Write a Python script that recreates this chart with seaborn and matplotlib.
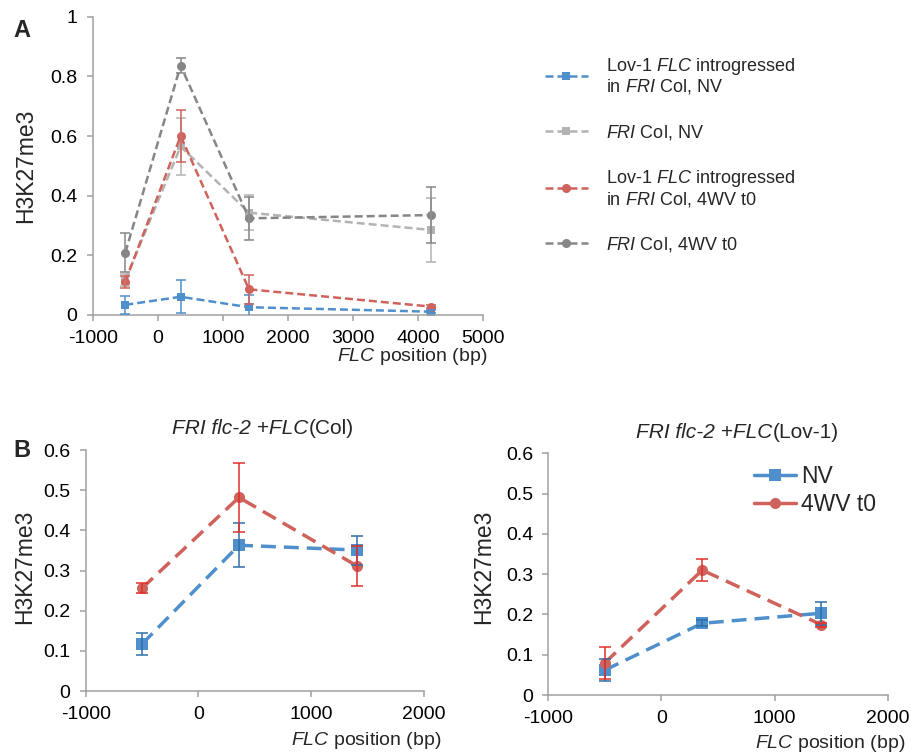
import pandas as pd
import numpy as np
import matplotlib
matplotlib.use("Agg")
import matplotlib.pyplot as plt
import seaborn as sns
from matplotlib.lines import Line2D
from matplotlib.ticker import FuncFormatter

# Panel A data (FLC position in bp, H3K27me3 values and error bars)
pos_a = [-500, 350, 1400, 4200]
lov_nv = [0.034, 0.061, 0.026, 0.011]
lov_nv_err = [0.030, 0.056, 0.040, 0.006]
col_nv = [0.117, 0.565, 0.343, 0.285]
col_nv_err = [0.020, 0.097, 0.058, 0.108]
lov_4wv = [0.112, 0.600, 0.086, 0.028]
lov_4wv_err = [0.020, 0.088, 0.048, 0.005]
col_4wv = [0.209, 0.836, 0.324, 0.335]
col_4wv_err = [0.065, 0.025, 0.073, 0.093]

labels_a = [
    "Lov-1 $\\mathit{FLC}$ introgressed\nin $\\mathit{FRI}$ Col, NV",
    "$\\mathit{FRI}$ Col, NV",
    "Lov-1 $\\mathit{FLC}$ introgressed\nin $\\mathit{FRI}$ Col, 4WV t0",
    "$\\mathit{FRI}$ Col, 4WV t0",
]

# Panel B data
pos_b = [-500, 360, 1410]
col_b_nv = [0.117, 0.363, 0.351]
col_b_nv_err = [0.028, 0.055, 0.036]
col_b_4wv = [0.256, 0.482, 0.311]
col_b_4wv_err = [0.013, 0.087, 0.050]
lov_b_nv = [0.062, 0.178, 0.203]
lov_b_nv_err = [0.027, 0.007, 0.028]
lov_b_4wv = [0.080, 0.310, 0.175]
lov_b_4wv_err = [0.040, 0.028, 0.005]
labels_b = ["NV", "4WV t0"]

BLUE = "#4f8fcb"
RED = "#d0625c"
LGRAY = "#b3b3b3"
DGRAY = "#858688"
AXGRAY = "#a0a0a0"

sns.set_style("ticks")
plt.rcParams["font.family"] = ["Liberation Sans", "DejaVu Sans"]
plt.rcParams["mathtext.fontset"] = "custom"
plt.rcParams["mathtext.rm"] = "Liberation Sans"
plt.rcParams["mathtext.it"] = "Liberation Sans:italic"
plt.rcParams["axes.unicode_minus"] = False

fig = plt.figure(figsize=(9.11, 7.53), dpi=100)
ax_a = fig.add_axes([0.1018, 0.5817, 0.4288, 0.3961])
ax_b1 = fig.add_axes([0.094, 0.0823, 0.3713, 0.320])
ax_b2 = fig.add_axes([0.6019, 0.077, 0.3726, 0.321])


def style_axes(ax):
    sns.despine(ax=ax)
    for s in ["left", "bottom"]:
        ax.spines[s].set_color(AXGRAY)
        ax.spines[s].set_linewidth(1.1)
    ax.tick_params(direction="out", length=4, width=1.1, color=AXGRAY,
                   labelsize=14, labelcolor="black", pad=7)
    ax.yaxis.set_major_formatter(FuncFormatter(lambda v, p: "%g" % round(v, 2)))
    ax.set_ylabel("H3K27me3", fontsize=16.5)


def series(ax, x, y, err, color, marker, ms, lw, dash, label, ecolor, cap):
    df = pd.DataFrame({"pos": x, "val": y})
    sns.lineplot(data=df, x="pos", y="val", ax=ax, color=color, marker=marker,
                 markersize=ms, markeredgewidth=0, linewidth=lw,
                 linestyle=(0, dash), label=label, sort=False, zorder=2)
    ax.errorbar(x, y, yerr=err, fmt="none", ecolor=ecolor, elinewidth=1.1,
                capsize=cap, capthick=1.1, zorder=3)


# ---- Panel A ----
da = (3.2, 1.6)
series(ax_a, pos_a, lov_nv, lov_nv_err, BLUE, "s", 6, 1.8, da, labels_a[0], BLUE, 3.5)
series(ax_a, pos_a, col_nv, col_nv_err, LGRAY, "s", 6, 1.8, da, labels_a[1], LGRAY, 3.5)
series(ax_a, pos_a, lov_4wv, lov_4wv_err, RED, "o", 6.5, 1.8, da, labels_a[2], RED, 3.5)
series(ax_a, pos_a, col_4wv, col_4wv_err, DGRAY, "o", 6.5, 1.8, da, labels_a[3], DGRAY, 3.5)
ax_a.set_xlim(-1000, 5000)
ax_a.set_ylim(0, 1)
ax_a.set_xticks(np.arange(-1000, 5001, 1000))
ax_a.set_yticks(np.arange(0, 1.01, 0.2))
style_axes(ax_a)
ax_a.set_xlabel("$\\mathit{FLC}$ position (bp)", fontsize=14, loc="right")
ax_a.xaxis.set_label_coords(1.009, -0.104)
ax_a.yaxis.set_label_coords(-0.143, 0.5)
h, l = ax_a.get_legend_handles_labels()
leg = ax_a.legend(h, l, loc="upper left", bbox_to_anchor=(0.598, 0.926),
                  bbox_transform=fig.transFigure, frameon=False, fontsize=13,
                  borderpad=0, borderaxespad=0, handlelength=2.4,
                  handletextpad=1.0, labelspacing=1.45)
for t in leg.get_texts():
    t.set_linespacing(1.05)

# ---- Panel B ----
db = (4.3, 2.3)
for ax, nv, nve, wv, wve in [
    (ax_b1, col_b_nv, col_b_nv_err, col_b_4wv, col_b_4wv_err),
    (ax_b2, lov_b_nv, lov_b_nv_err, lov_b_4wv, lov_b_4wv_err),
]:
    series(ax, pos_b, nv, nve, BLUE, "s", 8, 2.5, db, labels_b[0], "#2f6fa8", 4.3)
    series(ax, pos_b, wv, wve, RED, "o", 8, 2.5, db, labels_b[1], "#e0302a", 4.3)
    ax.set_xlim(-1000, 2000)
    ax.set_ylim(0, 0.6)
    ax.set_xticks([-1000, 0, 1000, 2000])
    ax.set_yticks(np.arange(0, 0.61, 0.1))
    style_axes(ax)
    ax.set_xlabel("$\\mathit{FLC}$ position (bp)", fontsize=14, loc="right")
    ax.get_legend().remove()

ax_b1.xaxis.set_label_coords(1.052, -0.162)
ax_b1.yaxis.set_label_coords(-0.145, 0.515)
ax_b2.xaxis.set_label_coords(1.051, -0.157)
ax_b2.yaxis.set_label_coords(-0.157, 0.53)
hb = [Line2D([], [], color=BLUE, marker="s", markersize=8, markeredgewidth=0, linewidth=2.5),
      Line2D([], [], color=RED, marker="o", markersize=8, markeredgewidth=0, linewidth=2.5)]
ax_b2.legend(hb, labels_b, loc="upper left", bbox_to_anchor=(0.828, 0.382),
             bbox_transform=fig.transFigure, frameon=False, fontsize=16.5,
             borderpad=0, borderaxespad=0, handlelength=1.8, handletextpad=0.25,
             labelspacing=0.2)


def mixed_title(ax, italic, plain, x, y):
    t = ax.text(x, y, italic, transform=ax.transAxes, style="italic",
                fontsize=15, va="baseline", ha="left")
    ax.annotate(plain, xy=(1, 0), xycoords=t, va="bottom", ha="left", fontsize=15)


mixed_title(ax_b1, "FRI flc-2 +FLC", "(Col)", 0.255, 1.065)
mixed_title(ax_b2, "FRI flc-2 +FLC", "(Lov-1)", 0.258, 1.065)

fig.text(0.024, 0.96, "A", fontsize=17, fontweight="bold", va="center", ha="center")
fig.text(0.024, 0.402, "B", fontsize=17, fontweight="bold", va="center", ha="center")

fig.savefig("out.png", dpi=100)
